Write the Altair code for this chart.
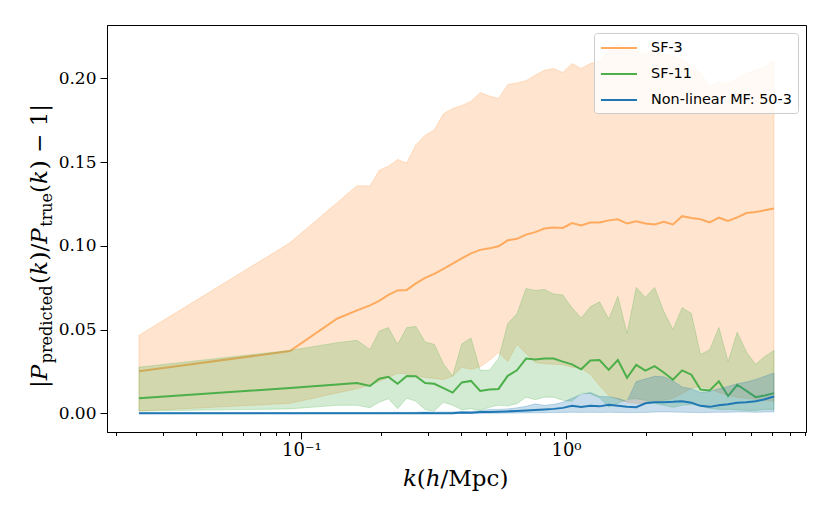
import altair as alt
import pandas as pd

# ---------------- data ----------------
k = [0.02433, 0.0905, 0.1363, 0.1622,
     0.1816, 0.1968, 0.2132, 0.2309, 0.2501, 0.2709, 0.2935, 0.3178, 0.3442, 0.3728,
     0.4039, 0.4375, 0.4739, 0.5133, 0.5559, 0.6022, 0.6523, 0.7064, 0.7652, 0.8288,
     0.8980, 0.9724, 1.0532, 1.1409, 1.2357, 1.3386, 1.4498, 1.5704, 1.7009, 1.8422,
     1.9954, 2.1614, 2.3415, 2.5363, 2.7473, 2.9758, 3.2233, 3.4916, 3.7818, 4.0967,
     4.4373, 4.8063, 5.2063, 5.6394, 6.1086]

sf3_mean = [0.0251, 0.0372, 0.0565, 0.0615,
            0.0645, 0.0672, 0.0707, 0.0734, 0.0737, 0.0776, 0.0809, 0.0833, 0.0863, 0.0894,
            0.0925, 0.0955, 0.0976, 0.0985, 0.0997, 0.1033, 0.1042, 0.1067, 0.1082, 0.1103,
            0.1109, 0.1107, 0.1136, 0.1122, 0.1139, 0.1139, 0.1152, 0.1158, 0.1133, 0.1146,
            0.1133, 0.1128, 0.1143, 0.1128, 0.1177, 0.1166, 0.1159, 0.1140, 0.1168, 0.1148,
            0.1170, 0.1196, 0.1202, 0.1212, 0.1223]
sf3_hi = [0.0466, 0.1018, 0.1257, 0.1359,
          0.1357, 0.1451, 0.1475, 0.1515, 0.1494, 0.1604, 0.1660, 0.1691, 0.1789, 0.1819,
          0.1837, 0.1863, 0.1915, 0.1894, 0.1879, 0.1962, 0.1972, 0.1986, 0.2018, 0.2048,
          0.2058, 0.2034, 0.2088, 0.2058, 0.2088, 0.2101, 0.2167, 0.2203, 0.2179, 0.2161,
          0.2143, 0.2155, 0.2143, 0.2131, 0.2113, 0.2078, 0.2030, 0.1952, 0.1978, 0.1968,
          0.1998, 0.2028, 0.2048, 0.2067, 0.2107]
sf3_lo = [0.0014, 0.0060, 0.0122, 0.0147,
          0.0170, 0.0191, 0.0215, 0.0239, 0.0236, 0.0224, 0.0215, 0.0209, 0.0203, 0.0221,
          0.0275, 0.0263, 0.0278, 0.0316, 0.0364, 0.0310, 0.0412, 0.0358, 0.0304, 0.0297,
          0.0293, 0.0291, 0.0276, 0.0269, 0.0233, 0.0167, 0.0107, 0.0084, 0.0067, 0.0060,
          0.0060, 0.0066, 0.0078, 0.0090, 0.0119, 0.0149, 0.0161, 0.0149, 0.0125, 0.0107,
          0.0096, 0.0090, 0.0084, 0.0078, 0.0072]

sf11_mean = [0.0091, 0.0151, 0.0173, 0.0181,
             0.0164, 0.0207, 0.0218, 0.0177, 0.0223, 0.0222, 0.0181, 0.0177, 0.0151, 0.0124,
             0.0185, 0.0194, 0.0134, 0.0143, 0.0146, 0.0224, 0.0257, 0.0327, 0.0321, 0.0327,
             0.0327, 0.0309, 0.0293, 0.0263, 0.0316, 0.0319, 0.0260, 0.0319, 0.0213, 0.0290,
             0.0255, 0.0282, 0.0244, 0.0201, 0.0257, 0.0231, 0.0143, 0.0137, 0.0191, 0.0103,
             0.0171, 0.0134, 0.0097, 0.0107, 0.0121]
sf11_hi = [0.0276, 0.0376, 0.0422, 0.0436,
           0.0382, 0.0491, 0.0512, 0.0412, 0.0512, 0.0519, 0.0426, 0.0412, 0.0297, 0.0223,
           0.0416, 0.0450, 0.0257, 0.0257, 0.0328, 0.0536, 0.0595, 0.0746, 0.0734, 0.0740,
           0.0713, 0.0707, 0.0630, 0.0570, 0.0636, 0.0666, 0.0563, 0.0699, 0.0478, 0.0752,
           0.0693, 0.0752, 0.0609, 0.0501, 0.0631, 0.0597, 0.0352, 0.0380, 0.0513, 0.0310,
           0.0485, 0.0366, 0.0293, 0.0340, 0.0376]
sf11_lo = [0.0014, 0.0027, 0.0048, 0.0048,
           0.0034, 0.0067, 0.0088, 0.0028, 0.0091, 0.0072, 0.0022, 0.0014, 0.0067, 0.0048,
           0.0022, 0.0028, 0.0018, 0.0036, 0.0048, 0.0045, 0.0058, 0.0097, 0.0082, 0.0097,
           0.0097, 0.0078, 0.0072, 0.0121, 0.0118, 0.0094, 0.0038, 0.0060, 0.0084, 0.0087,
           0.0078, 0.0060, 0.0048, 0.0036, 0.0048, 0.0054, 0.0042, 0.0030, 0.0024, 0.0024,
           0.0021, 0.0018, 0.0018, 0.0024, 0.0024]

mf_mean = [0.0001, 0.0001, 0.0001, 0.0001,
           0.0001, 0.0001, 0.0001, 0.0001, 0.0001, 0.0001, 0.0002, 0.0001, 0.0001, 0.0001,
           0.0006, 0.0004, 0.0008, 0.0009, 0.0010, 0.0012, 0.0015, 0.0018, 0.0021, 0.0024,
           0.0027, 0.0033, 0.0045, 0.0038, 0.0045, 0.0042, 0.0051, 0.0045, 0.0040, 0.0037,
           0.0060, 0.0067, 0.0067, 0.0069, 0.0073, 0.0064, 0.0045, 0.0039, 0.0048, 0.0054,
           0.0063, 0.0067, 0.0073, 0.0084, 0.0101]
mf_hi = [0.0004, 0.0004, 0.0005, 0.0005,
         0.0005, 0.0006, 0.0006, 0.0007, 0.0006, 0.0007, 0.0008, 0.0008, 0.0008, 0.0009,
         0.0012, 0.0012, 0.0015, 0.0024, 0.0024, 0.0027, 0.0033, 0.0042, 0.0057, 0.0048,
         0.0054, 0.0066, 0.0090, 0.0113, 0.0125, 0.0101, 0.0099, 0.0090, 0.0072, 0.0190,
         0.0205, 0.0221, 0.0218, 0.0194, 0.0158, 0.0147, 0.0125, 0.0131, 0.0147, 0.0161,
         0.0177, 0.0187, 0.0203, 0.0221, 0.0241]
mf_lo = [0.0, 0.0, 0.0, 0.0,
         0.0, 0.0, 0.0, 0.0, 0.0, 0.0, 0.0, 0.0, 0.0, 0.0,
         0.0, 0.0, 0.0, 0.0001, 0.0001, 0.0002, 0.0002, 0.0003, 0.0004, 0.0004,
         0.0005, 0.0006, 0.0007, 0.0006, 0.0007, 0.0006, 0.0007, 0.0006, 0.0005, 0.0005,
         0.0006, 0.0008, 0.0009, 0.0008, 0.0007, 0.0006, 0.0005, 0.0006, 0.0007, 0.0007,
         0.0008, 0.0008, 0.0007, 0.0008, 0.0009]

series_names = ["SF-3", "SF-11", "Non-linear MF: 50-3"]
line_colors = ["#ffaa5e", "#4daf4a", "#1f77b4"]
fill_colors = ["#ff7f0e", "#4daf4a", "#1f77b4"]
fill_opacity = [0.2, 0.25, 0.25]

x_ticks = [0.02, 0.03, 0.04, 0.05, 0.06, 0.07, 0.08, 0.09,
           0.1, 0.2, 0.3, 0.4, 0.5, 0.6, 0.7, 0.8, 0.9,
           1, 2, 3, 4, 5, 6, 7, 8]
y_ticks = [0.0, 0.05, 0.10, 0.15, 0.20]
x_domain = [0.01842, 8.072]
y_domain = [-0.0111, 0.2318]

# ---------------- table ----------------
frames = []
for name, m, lo, hi in [(series_names[0], sf3_mean, sf3_lo, sf3_hi),
                        (series_names[1], sf11_mean, sf11_lo, sf11_hi),
                        (series_names[2], mf_mean, mf_lo, mf_hi)]:
    frames.append(pd.DataFrame({"k": k, "mean": m, "lo": lo, "hi": hi, "series": name}))
df = pd.concat(frames, ignore_index=True)

SERIF = "DejaVu Serif"

x_axis = alt.Axis(
    values=x_ticks,
    labelExpr="datum.value == 0.1 ? '10⁻¹' : (datum.value == 1 ? '10⁰' : '')",
    tickSize={"condition": {"test": "datum.value == 0.1 || datum.value == 1", "value": 7}, "value": 3.5},
    title=None, grid=False, labelFont=SERIF, labelFontSize=18, labelPadding=2,
    labelOverlap=False, labelFlush=False, labelColor="black", tickColor="black",
    domainColor="black")
y_axis = alt.Axis(
    values=y_ticks, format=".2f", title=None, grid=False, labelFont=SERIF,
    labelFontSize=17, tickSize=7, labelPadding=4, labelColor="black",
    tickColor="black", domainColor="black")

x_enc = alt.X("k:Q", scale=alt.Scale(type="log", domain=x_domain, nice=False), axis=x_axis)
y_scale = alt.Scale(domain=y_domain, nice=False, zero=False)

color_scale = alt.Scale(domain=series_names, range=line_colors)
legend = alt.Legend(
    title=None, orient="top-right", offset=8,
    fillColor="rgba(255,255,255,0.8)", strokeColor="#cccccc", cornerRadius=3,
    padding=6, labelFont="DejaVu Sans", labelFontSize=14.4, labelColor="black",
    symbolType="M-1,0H3.5", symbolSize=256, symbolStrokeWidth=2,
    labelOffset=33, rowPadding=10, labelLimit=0)

base = alt.Chart(df)


def band(i):
    return base.transform_filter(alt.datum.series == series_names[i]).mark_area(
        fill=fill_colors[i], fillOpacity=fill_opacity[i],
        stroke=fill_colors[i], strokeOpacity=fill_opacity[i], strokeWidth=1
    ).encode(x=x_enc, y=alt.Y("lo:Q", scale=y_scale, axis=y_axis), y2="hi:Q")


def line(i):
    return base.transform_filter(alt.datum.series == series_names[i]).mark_line(
        strokeWidth=2
    ).encode(
        x=x_enc,
        y=alt.Y("mean:Q", scale=y_scale, axis=y_axis),
        color=alt.Color("series:N", scale=color_scale, legend=legend),
    )


one = pd.DataFrame({"n": [0]})


def label(text, x, y, size, italic=False, angle=0):
    kw = dict(text=text, font=SERIF, fontSize=size, color="black",
              align="left", baseline="alphabetic")
    if italic:
        kw["fontStyle"] = "italic"
    if angle:
        kw["angle"] = angle
    return alt.Chart(one).mark_text(**kw).encode(x=alt.value(x), y=alt.value(y))


# y-axis title |P_predicted(k)/P_true(k) - 1| (rotated, built from pieces)
MX, SX = -60, -55
ytitle = [
    label("|", MX, 363, 23, angle=270),
    label("P", MX, 355.3, 23, italic=True, angle=270),
    label("predicted", SX, 338.3, 16, angle=270),
    label("(", MX, 259, 23, angle=270),
    label("k", MX, 250.1, 23, italic=True, angle=270),
    label(")/", MX, 235.4, 23, angle=270),
    label("P", MX, 218.7, 23, italic=True, angle=270),
    label("true", SX, 201.8, 16, angle=270),
    label("(", MX, 167.9, 23, angle=270),
    label("k", MX, 158.9, 23, italic=True, angle=270),
    label(") − 1|", MX, 144.2, 23, angle=270),
]
# x-axis title k(h/Mpc)
xtitle = [
    label("k", 296, 461, 23, italic=True),
    label("(", 309.8, 461, 23),
    label("h", 318.8, 461, 23, italic=True),
    label("/Mpc)", 333.5, 461, 23),
]

chart = alt.layer(
    band(0), line(0), band(1), line(1), band(2), line(2), *ytitle, *xtitle
).properties(
    width=699, height=407,
    autosize=alt.AutoSizeParams(type="none"),
    padding={"left": 99, "top": 17, "right": 16, "bottom": 79},
    background="white",
).configure_view(stroke="black", strokeWidth=1)

chart.save("out.html", embed_options={"renderer": "svg", "actions": False})
